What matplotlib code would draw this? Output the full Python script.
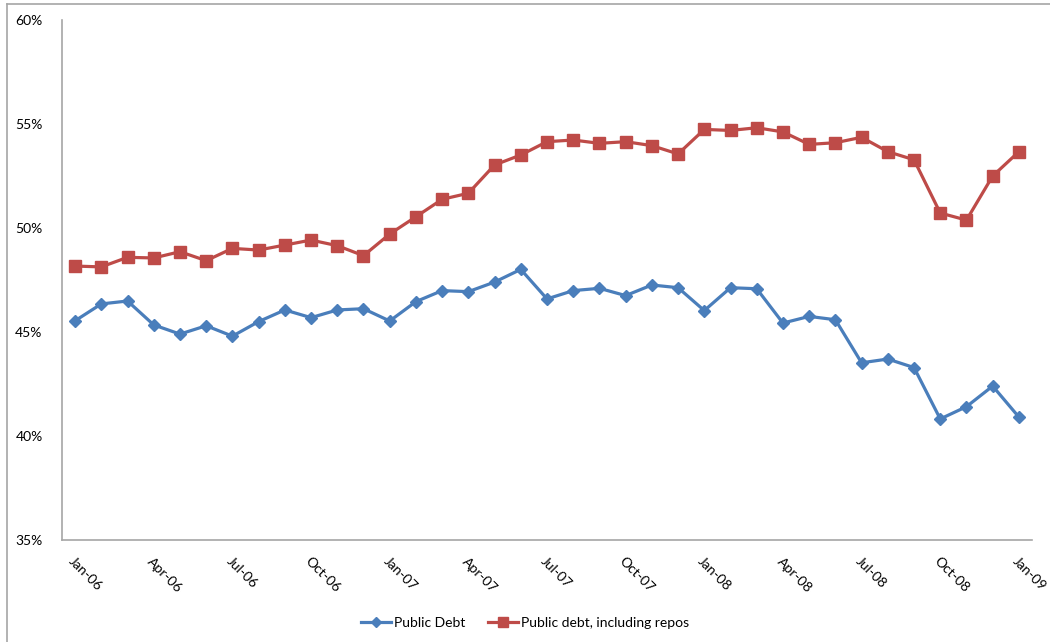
import matplotlib
matplotlib.use("Agg")
import matplotlib.pyplot as plt
from matplotlib.lines import Line2D
from matplotlib.ticker import FuncFormatter, MultipleLocator

months = ["Jan", "Feb", "Mar", "Apr", "May", "Jun", "Jul", "Aug", "Sep", "Oct", "Nov", "Dec"]
categories = [f"{m}-{y:02d}" for y in (6, 7, 8) for m in months] + ["Jan-09"]

public_debt = [45.54, 46.35, 46.49, 45.34, 44.90, 45.30, 44.80, 45.50, 46.06, 45.69, 46.06, 46.12,
               45.53, 46.46, 46.99, 46.94, 47.40, 48.01, 46.59, 46.99, 47.10, 46.75, 47.26, 47.13,
               46.03, 47.13, 47.08, 45.43, 45.75, 45.59, 43.52, 43.70, 43.29, 40.82, 41.41, 42.40,
               40.91]
public_debt_repos = [48.17, 48.13, 48.59, 48.56, 48.86, 48.43, 49.02, 48.94, 49.18, 49.42, 49.15, 48.67,
                     49.71, 50.54, 51.38, 51.67, 53.03, 53.51, 54.15, 54.23, 54.07, 54.15, 53.96, 53.56,
                     54.74, 54.69, 54.82, 54.62, 54.02, 54.10, 54.36, 53.67, 53.28, 50.72, 50.38, 52.50,
                     53.67]
series_names = ["Public Debt", "Public debt, including repos"]

plt.rcParams['font.family'] = ['Lato', 'DejaVu Sans']

fig = plt.figure(figsize=(10.5, 6.42), dpi=100)
ax = fig.add_axes([62/1050, 1-540/642, (1032-62)/1050, (540-20)/642])

blue = "#4A7EBB"
red = "#BE4B48"
x = list(range(len(categories)))
ax.plot(x, public_debt, color=blue, lw=2.3, marker="D", markersize=6.5, label=series_names[0])
ax.plot(x, public_debt_repos, color=red, lw=2.3, marker="s", markersize=8, label=series_names[1])

ax.set_xlim(-0.5, len(categories) - 0.5)
ax.set_ylim(35, 60)
ax.yaxis.set_major_locator(MultipleLocator(5))
ax.yaxis.set_major_formatter(FuncFormatter(lambda v, p: f"{v:.0f}%"))

tick_idx = list(range(0, len(categories), 3))
ax.set_xticks(tick_idx)
ax.set_xticklabels([categories[i] for i in tick_idx], rotation=-45, ha="left", va="top",
                   rotation_mode="anchor", fontsize=10)
ax.tick_params(axis="x", length=0, pad=11)
ax.tick_params(axis="y", length=0, pad=14, labelsize=10)

for s in ["top", "right"]:
    ax.spines[s].set_visible(False)
for s in ["left", "bottom"]:
    ax.spines[s].set_color("#A6A6A6")
    ax.spines[s].set_linewidth(1.2)

handles = [Line2D([0], [0], color=blue, lw=2.3, marker="D", markersize=5),
           Line2D([0], [0], color=red, lw=2.3, marker="s", markersize=6.5)]
fig.legend(handles, series_names, loc="center", bbox_to_anchor=(0.5, 1-623/642), ncol=2,
           frameon=False, fontsize=10, handlelength=2.2, handletextpad=0.2, columnspacing=1.6)

# outer chart border
fig.add_artist(Line2D([7/1050, 7/1050], [0, 1-4/642], color="#A6A6A6", lw=1.2, transform=fig.transFigure))
fig.add_artist(Line2D([7/1050, 1], [1-4/642, 1-4/642], color="#A6A6A6", lw=1.2, transform=fig.transFigure))

fig.savefig("out.png", dpi=100)
